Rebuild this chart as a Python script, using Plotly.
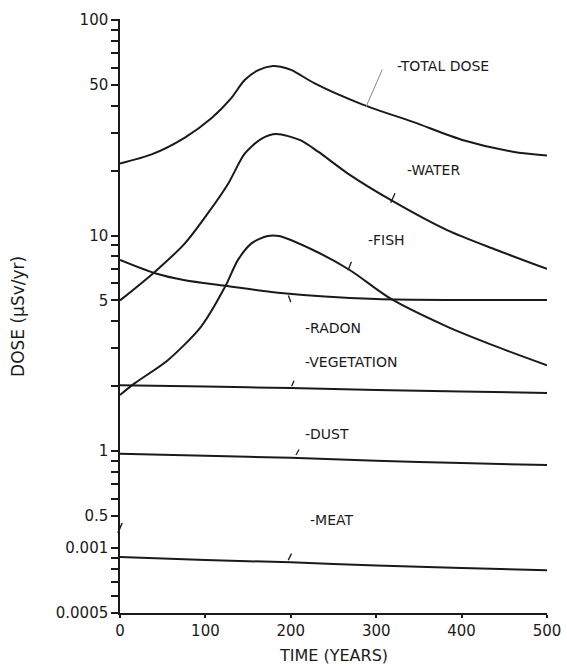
import math
import plotly.graph_objects as go
from plotly.subplots import make_subplots

# ---- data ----
total_t = [0, 37, 76, 107, 130, 146, 162, 179, 188, 201, 228, 285, 343, 402, 460, 500]
total_dose = [21.6, 23.8, 28.5, 35.0, 43.3, 52.7, 58.6, 61.2, 60.7, 58.6, 50.8, 40.4, 33.7, 27.7, 24.5, 23.5]
water_t = [0, 41, 76, 103, 127, 146, 166, 183, 211, 232, 266, 320, 383, 441, 500]
water = [5.0, 6.8, 9.2, 12.7, 17.5, 24.0, 28.2, 29.6, 27.7, 24.5, 19.5, 14.4, 10.6, 8.57, 7.0]
fish_t = [0, 17, 56, 95, 123, 138, 154, 173, 186, 226, 269, 316, 383, 441, 500]
fish = [1.82, 2.06, 2.64, 3.78, 5.78, 7.69, 9.2, 9.95, 9.95, 8.57, 6.92, 5.12, 3.78, 3.05, 2.5]
radon_t = [0, 41, 76, 123, 185, 300, 400, 500]
radon = [7.7, 6.68, 6.2, 5.85, 5.43, 5.07, 5.02, 5.02]

years_flat = [0, 100, 200, 300, 400, 500]
vegetation = [2.02, 1.99, 1.96, 1.92, 1.89, 1.86]
dust = [0.97, 0.95, 0.93, 0.90, 0.88, 0.86]
meat = [0.00091, 0.00088, 0.00086, 0.00083, 0.00081, 0.00079]

x_ticks = [0, 100, 200, 300, 400, 500]
top_major = [0.5, 1, 5, 10, 50, 100]
top_major_text = ["0.5", "1", "5", "10", "50", "100"]
top_minor = [0.6, 0.7, 0.8, 0.9, 2, 3, 4, 6, 7, 8, 9, 20, 30, 40, 60, 70, 80, 90]
bot_major = [0.0005, 0.001]
bot_major_text = ["0.0005", "0.001"]
bot_minor = [0.0006, 0.0007, 0.0008, 0.0009]

# labels: text, time, value
labels = [
    ("-TOTAL DOSE", 322, 61.0),
    ("-WATER", 334, 20.1),
    ("-FISH", 288, 9.5),
    ("-RADON", 214, 3.73),
    ("-VEGETATION", 214, 2.59),
    ("-DUST", 214, 1.2),
    ("-MEAT", 220, 0.478),
]
# leader ticks: time, value, axis, dx, dy (pixels)
leaders = [
    (288, 39.5, "y", 17, -39),
    (317, 14.2, "y", 5, -11),
    (267, 6.9, "y", 4, -10),
    (200, 4.91, "y", -3, -8),
    (201, 2.0, "y", 3, -7),
    (206, 0.958, "y", 4, -7),
    (197, 0.00088, "y2", 4, -8),
]

INK = "#1a1a1a"
FONT = "DejaVu Sans"

fig = make_subplots(rows=2, cols=1, shared_xaxes=True, vertical_spacing=0,
                    row_heights=[510, 84])

line_style = dict(color=INK, width=2, shape="spline", smoothing=0.8)
for name, xs, ys in [("Total dose", total_t, total_dose), ("Water", water_t, water),
                     ("Fish", fish_t, fish), ("Radon", radon_t, radon)]:
    fig.add_trace(go.Scatter(x=xs, y=ys, mode="lines", name=name, line=line_style), row=1, col=1)
for name, ys in [("Vegetation", vegetation), ("Dust", dust)]:
    fig.add_trace(go.Scatter(x=years_flat, y=ys, mode="lines", name=name, line=line_style), row=1, col=1)
fig.add_trace(go.Scatter(x=years_flat, y=meat, mode="lines", name="Meat", line=line_style), row=2, col=1)


def tick_setup(major, major_text, minor):
    vals = list(major) + list(minor)
    text = list(major_text) + [""] * len(minor)
    return vals, text


top_vals, top_text = tick_setup(top_major, top_major_text, top_minor)
bot_vals, bot_text = tick_setup(bot_major, bot_major_text, bot_minor)

axis_common = dict(showline=True, linecolor=INK, linewidth=1.5, ticks="outside",
                   tickcolor=INK, tickwidth=1.5, showgrid=False, zeroline=False,
                   automargin=False,
                   tickfont=dict(family=FONT, size=15, color=INK))

fig.update_layout(
    width=567, height=669,
    margin=dict(l=120, r=20, t=19, b=56),
    paper_bgcolor="white", plot_bgcolor="white",
    showlegend=False,
    font=dict(family=FONT, color=INK),
    xaxis=dict(range=[0, 500], showline=False, showticklabels=False, ticks="",
               showgrid=False, zeroline=False, automargin=False),
    xaxis2=dict(range=[0, 500], tickmode="array", tickvals=x_ticks, ticklen=3, **axis_common),
    yaxis=dict(type="log", range=[-0.362, 2.005], tickmode="array", tickvals=top_vals,
               ticktext=top_text, ticklen=7, **axis_common),
    yaxis2=dict(type="log", range=[math.log10(0.0005), -2.911], tickmode="array", tickvals=bot_vals,
                ticktext=bot_text, ticklen=7, **axis_common),
)

annotations = []
for text, t, v in labels:
    annotations.append(dict(x=t, y=math.log10(v), xref="x", yref="y", text=text,
                            showarrow=False, xanchor="left", yanchor="middle",
                            font=dict(family=FONT, size=14, color=INK)))
for i, (t, v, ax_ref, dx, dy) in enumerate(leaders):
    annotations.append(dict(x=t, y=math.log10(v), xref="x" if ax_ref == "y" else "x2", yref=ax_ref,
                            text="", showarrow=True, arrowhead=0, ax=dx, ay=dy,
                            arrowwidth=1.3 if i else 1.0,
                            arrowcolor=INK if i else "#888888", standoff=0, startstandoff=0))
annotations.append(dict(x=-0.239, y=0.5, xref="paper", yref="paper", text="DOSE (μSv/yr)",
                        textangle=-90, showarrow=False, xanchor="center", yanchor="middle",
                        font=dict(family=FONT, size=17, color=INK)))
annotations.append(dict(x=0.5, y=-0.071, xref="paper", yref="paper", text="TIME (YEARS)",
                        showarrow=False, xanchor="center", yanchor="middle",
                        font=dict(family=FONT, size=16, color=INK)))
fig.update_layout(annotations=annotations)

# small axis-break mark
fig.add_shape(type="line", xref="paper", yref="paper", x0=-0.005, y0=0.1347, x1=0.005, y1=0.1515,
              line=dict(color=INK, width=1.5))

fig.write_html("out.html", config={"displayModeBar": False},
               post_script="document.body.style.margin='0';document.body.style.padding='0';")
